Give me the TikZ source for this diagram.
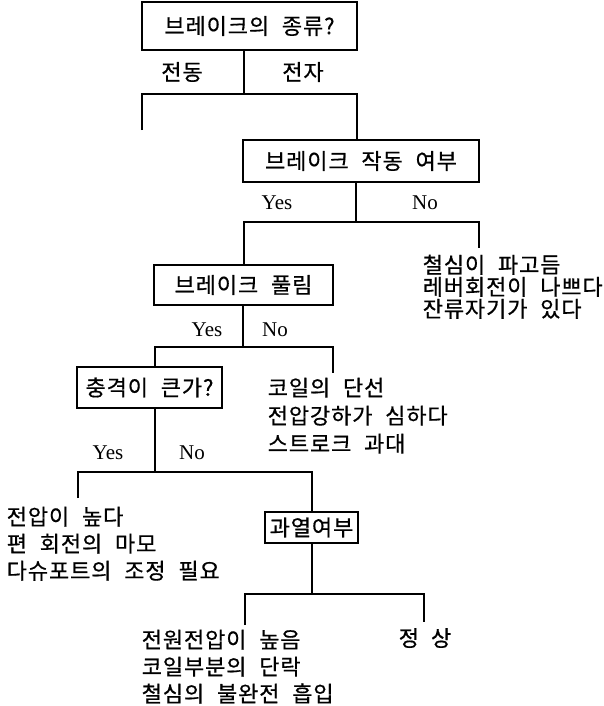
\documentclass[tikz,border=0pt]{standalone}
\usepackage{fontspec}
\setmainfont{Noto Sans CJK KR}[WordSpace=2.2, LetterSpace=4, FakeBold=0.6]
\newfontfamily\latinserif{Liberation Serif}
\newcommand\hgfont{\fontsize{22}{27}\selectfont}
\newcommand\ynfont{\latinserif\fontsize{21}{24}\selectfont}
\begin{document}
\begin{tikzpicture}[x=1pt, y=-1pt, line width=1.5pt,
  box/.style={draw, rectangle, inner sep=0pt, font=\hgfont},
  lbl/.style={inner sep=0pt, font=\hgfont},
  yn/.style={inner sep=0pt, font=\ynfont},
  txt/.style={inner sep=0pt, anchor=north west, align=left}]
\useasboundingbox (0,0) rectangle (603,706);

% decision boxes
\node[box, minimum width=215pt, minimum height=48pt] (b1) at (249.5,26) {브레이크의 종류?};
\node[box, minimum width=236pt, minimum height=42pt] (b2) at (361,161) {브레이크 작동 여부};
\node[box, minimum width=179pt, minimum height=40pt] (b3) at (243.5,285) {브레이크 풀림};
\node[box, minimum width=145pt, minimum height=41pt] (b4) at (149.5,387.5) {충격이 큰가?};
\node[box, minimum width=93pt, minimum height=31pt] (b5) at (311.5,527.5) {과열여부};

% branch labels
\node[lbl] (k1) at (182,72) {전동};
\node[lbl] (k2) at (303,72) {전자};
\node[yn] (y2) at (277,203) {Yes};
\node[yn] (n2) at (425,203) {No};
\node[yn] (y3) at (207,330) {Yes};
\node[yn] (n3) at (275,330) {No};
\node[yn] (y4) at (108,453) {Yes};
\node[yn] (n4) at (192,453) {No};

% result texts
\node[txt, font={\fontsize{22}{22}\selectfont}] (t2) at (422,254)
  {철심이 파고듬\\레버회전이 나쁘다\\잔류자기가 있다};
\node[txt, font={\fontsize{22}{28}\selectfont}] (t3) at (267,377)
  {코일의 단선\\전압강하가 심하다\\스트로크 과대};
\node[txt, font={\fontsize{22}{27}\selectfont}] (t4) at (6,506)
  {전압이 높다\\편 회전의 마모\\다슈포트의 조정 필요};
\node[txt, font={\fontsize{22}{27}\selectfont}] (t5) at (141,629)
  {전원전압이 높음\\코일부분의 단락\\철심의 불완전 흡입};
\node[lbl] (t6) at (425,638) {정\hspace{12pt}상};

% branching points and open ends
\coordinate (s1) at (244,94);
\coordinate (l1) at (142,130);
\coordinate (r1) at (357,94);
\coordinate (s2) at (356,222);
\coordinate (l2) at (244,222);
\coordinate (r2) at (479,248);
\coordinate (s3) at (243,347);
\coordinate (l3) at (155,347);
\coordinate (r3) at (333,373);
\coordinate (s4) at (155,472);
\coordinate (l4) at (78,498);
\coordinate (r4) at (312,472);
\coordinate (s5) at (312,594);
\coordinate (l5) at (245,625);
\coordinate (r5) at (424,622);

% connectors
\draw (b1.south -| s1) -- (s1);
\draw (l1) |- (r1) -- (r1 |- b2.north);

\draw (b2.south -| s2) -- (s2);
\draw (b3.north -| l2) -- (l2) -| (r2);

\draw (b3.south -| s3) -- (s3);
\draw (b4.north -| l3) -- (l3) -| (r3);

\draw (b4.south -| s4) -- (s4);
\draw (l4) |- (r4) -- (r4 |- b5.north);

\draw (b5.south -| s5) -- (s5);
\draw (l5) |- (s5) -| (r5);
\end{tikzpicture}
\end{document}
